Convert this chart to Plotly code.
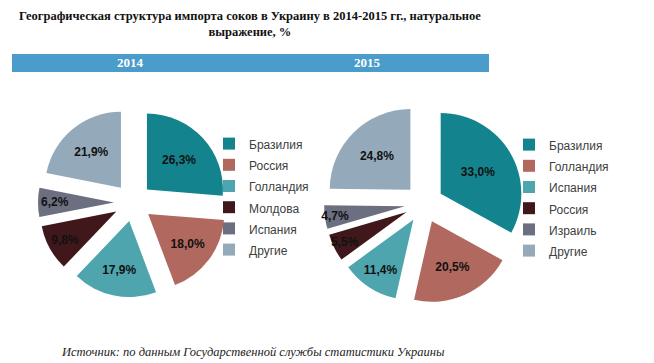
import plotly.graph_objects as go

# ---- data ----
labels_2014 = ["Бразилия", "Россия", "Голландия", "Молдова", "Испания", "Другие"]
values_2014 = [26.3, 18.0, 17.9, 9.8, 6.2, 21.9]
labels_2015 = ["Бразилия", "Голландия", "Испания", "Россия", "Израиль", "Другие"]
values_2015 = [33.0, 20.5, 11.4, 5.5, 4.7, 24.8]
years = ["2014", "2015"]
title_lines = ["Географическая структура импорта соков в Украину в 2014-2015 гг., натуральное",
               "выражение, %"]
source_text = "Источник: по данным Государственной службы статистики Украины"

slice_colors = ["#13848e", "#b0685f", "#4ea5ad", "#40181c", "#6b6f80", "#94a9ba"]

W, H = 654, 363


def pct(v):
    return f"{v:.1f}%".replace(".", ",")


def leg_label(s, style):
    return f'<span style="{style}">{s}</span>'


def dom_x(c, half):
    return [(c - half) / W, (c + half) / W]


def dom_y(c, half):
    return [1 - (c + half) / H, 1 - (c - half) / H]


fig = go.Figure()
common = dict(
    sort=False, direction="clockwise", rotation=0,
    textposition="inside", insidetextorientation="horizontal",
    textfont=dict(family="Arial, Liberation Sans", size=12, color="#111111"),
    texttemplate="<b>%{text}</b>", hoverinfo="skip",
    marker=dict(colors=slice_colors, line=dict(width=0)),
)
fig.add_trace(go.Pie(
    labels=[leg_label(s, "font-size:12px") for s in labels_2014], values=values_2014,
    text=[pct(v) for v in values_2014],
    pull=[0.25] * len(values_2014),
    domain=dict(x=dom_x(133, 95), y=dom_y(202.5, 95)),
    legend="legend", **common))
fig.add_trace(go.Pie(
    labels=[leg_label(s, "font-size:12px;color:#404040") for s in labels_2015], values=values_2015,
    text=[pct(v) for v in values_2015],
    pull=[0.24] * len(values_2015),
    domain=dict(x=dom_x(424, 100), y=dom_y(203.5, 100)),
    legend="legend2", **common))

leg_common = dict(
    font=dict(family="Arial, Liberation Sans", size=14, color="#404040"),
    bgcolor="rgba(0,0,0,0)", xanchor="left", yanchor="top",
    itemclick=False, itemdoubleclick=False,
)
fig.update_layout(
    width=W, height=H,
    margin=dict(l=0, r=0, t=0, b=0),
    paper_bgcolor="white", plot_bgcolor="white",
    uniformtext=dict(minsize=12, mode="show"),
    legend=dict(x=209 / W, y=1 - 128 / H, **leg_common),
    legend2=dict(x=509 / W, y=1 - 129 / H, **leg_common),
    shapes=[dict(type="rect", xref="paper", yref="paper",
                 x0=12 / W, x1=489 / W, y0=1 - 72 / H, y1=1 - 54 / H,
                 fillcolor="#4a9cca", line=dict(width=0), layer="below")],
)

ann = []
ann.append(dict(text="<b>" + title_lines[0] + "<br>" + title_lines[1] + "</b>",
                x=250 / W, y=1 - 7 / H, xref="paper", yref="paper",
                xanchor="center", yanchor="top", showarrow=False,
                font=dict(family="Liberation Serif", size=12.5, color="#111111")))
for yr, cx in zip(years, [130, 367]):
    ann.append(dict(text="<b>" + yr + "</b>", x=cx / W, y=1 - 63 / H,
                    xref="paper", yref="paper", xanchor="center", yanchor="middle",
                    showarrow=False,
                    font=dict(family="Liberation Serif", size=13, color="white")))
ann.append(dict(text="<i>" + source_text + "</i>", x=253 / W, y=1 - 352 / H,
                xref="paper", yref="paper", xanchor="center", yanchor="middle",
                showarrow=False,
                font=dict(family="Liberation Serif", size=12.5, color="#222222")))
fig.update_layout(annotations=ann)

fig.write_html("out.html", config={"displayModeBar": False},
               post_script="document.body.style.margin='0';document.body.style.overflow='hidden';")
